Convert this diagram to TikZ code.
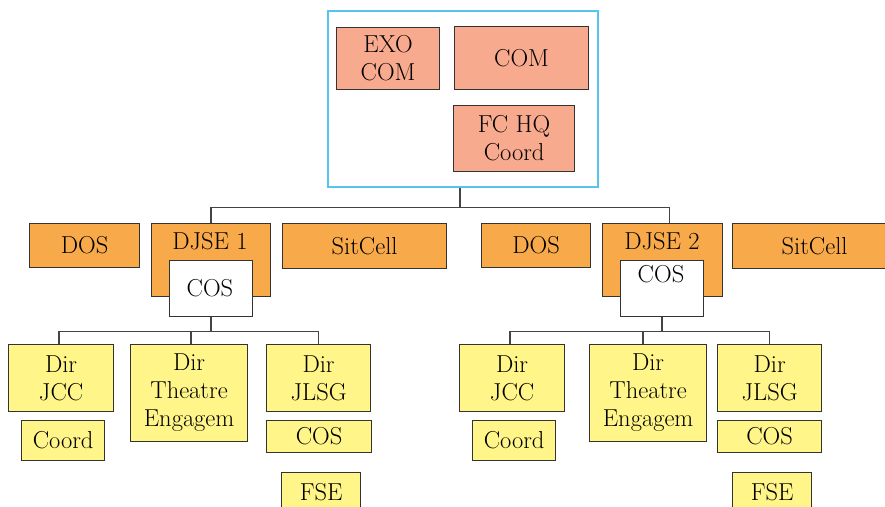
\documentclass[tikz,border=0pt]{standalone}
\usepackage{tikz}
\definecolor{cmdfill}{HTML}{F8AA8E}
\definecolor{staffill}{HTML}{F8A94A}
\definecolor{dirfill}{HTML}{FFF589}
\definecolor{framecol}{HTML}{55C5EE}
\definecolor{edgecol}{HTML}{333333}
\definecolor{linkcol}{HTML}{444444}
\tikzset{
  box/.style={draw=edgecol, line width=1.2pt, anchor=north west, inner sep=0pt,
              align=center, font=\fontsize{24.5}{28}\selectfont},
  cmd/.style={box, fill=cmdfill},
  staff/.style={box, fill=staffill},
  dir/.style={box, fill=dirfill},
  cosbox/.style={box, fill=white},
  lbl/.style={inner sep=0pt, font=\fontsize{24.5}{28}\selectfont},
  link/.style={draw=linkcol, line width=1.4pt},
}
% box of given corner, width and height
\newcommand{\orgbox}[6]{\node[#1, minimum width=#4pt, minimum height=#5pt] (#2) at (#3) {#6};}
\begin{document}
\begin{tikzpicture}[x=1pt, y=-1pt]
\useasboundingbox (0,0) rectangle (885,506);
\clip (0,0) rectangle (885,506);

% command group
\node[draw=framecol, line width=1.6pt, anchor=north west, minimum width=270pt,
      minimum height=176pt, inner sep=0pt] (hq) at (327,10) {};
\orgbox{cmd}{exo}{336,27}{103}{62}{EXO\\COM}
\orgbox{cmd}{com}{454,26}{134}{63}{COM}
\orgbox{cmd}{fchq}{453,105}{121}{66}{FC HQ\\Coord}

% first staff row
\orgbox{staff}{dosa}{29,223}{110}{44}{DOS}
\orgbox{staff}{djsea}{151,223}{119}{73}{}
\node[lbl] (djsealbl) at (210,241) {DJSE 1};
\orgbox{cosbox}{cosa}{169,260}{83}{56}{}
\node[lbl] (cosalbl) at (210,288) {COS};
\orgbox{staff}{sita}{282,223}{164}{45}{SitCell}

\orgbox{staff}{dosb}{481,223}{109}{44}{DOS}
\orgbox{staff}{djseb}{602,223}{120}{73}{}
\node[lbl] (djseblbl) at (662,241) {DJSE 2};
\orgbox{cosbox}{cosb}{620,260}{83}{56}{}
\node[lbl] (cosblbl) at (661,274) {COS};
\orgbox{staff}{sitb}{732,223}{164}{45}{SitCell}

% directorates, left
\orgbox{dir}{jcca}{8,344}{105}{67}{Dir\\JCC}
\orgbox{dir}{thra}{130,344}{117}{97}{Dir\\Theatre\\Engagem}
\orgbox{dir}{jlsga}{266,344}{104}{67}{Dir\\JLSG}
\orgbox{dir}{coorda}{21,420}{83}{40}{Coord}
\orgbox{dir}{cosc}{266,420}{105}{32}{COS}
\orgbox{dir}{fsea}{281,472}{79}{40}{FSE}

% directorates, right
\orgbox{dir}{jccb}{459,344}{105}{67}{Dir\\JCC}
\orgbox{dir}{thrb}{589,344}{117}{97}{Dir\\Theatre\\Engagem}
\orgbox{dir}{jlsgb}{717,344}{104}{67}{Dir\\JLSG}
\orgbox{dir}{coordb}{472,420}{83}{40}{Coord}
\orgbox{dir}{cosd}{717,420}{104}{32}{COS}
\orgbox{dir}{fseb}{732,472}{79}{40}{FSE}

% connectors
\draw[link] ([xshift=-3pt]hq.south) -- ++(0,20) -| (djsea.north);
\draw[link] ([xshift=-3pt]hq.south) -- ++(0,20) -| ([xshift=7pt]djseb.north);

\draw[link] (cosa.south) -- ++(0,14) -| ([xshift=-2pt]jcca.north);
\draw[link] (cosa.south) -- ++(0,14) -| ([xshift=2pt]thra.north);
\draw[link] (cosa.south) -- ++(0,14) -| (jlsga.north);

\draw[link] (cosb.south) -- ++(0,14) -| ([xshift=-2pt]jccb.north);
\draw[link] (cosb.south) -- ++(0,14) -| ([xshift=-5pt]thrb.north);
\draw[link] (cosb.south) -- ++(0,14) -| (jlsgb.north);
\end{tikzpicture}
\end{document}
